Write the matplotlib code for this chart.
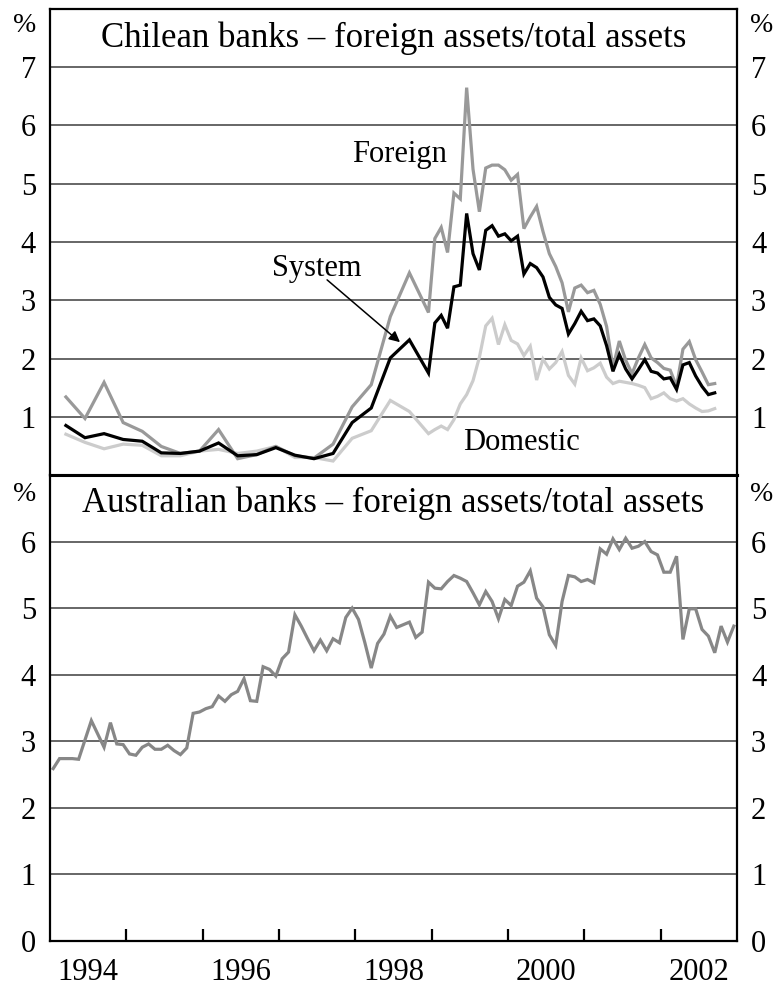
import matplotlib
matplotlib.use("Agg")
import matplotlib.pyplot as plt
import numpy as np
import pandas as pd

plt.rcParams['font.family'] = ['Liberation Serif', 'DejaVu Serif']

# ---------------- data ----------------
chile_quarter_months = [str(p) for p in pd.period_range('1994-03', '1998-12', freq='3M')]
chile_monthly_months = [str(p) for p in pd.period_range('1999-01', '2002-09', freq='M')]
chile_months = chile_quarter_months + chile_monthly_months

chile_foreign = [1.34, 0.97, 1.59, 0.90, 0.75, 0.49, 0.37, 0.41, 0.78, 0.28,
                 0.35, 0.49, 0.33, 0.29, 0.53, 1.17, 1.55, 2.72, 3.47, 2.79,
                 4.06, 4.25, 3.82, 4.84, 4.74, 6.65, 5.25, 4.52, 5.27, 5.32, 5.32, 5.24,
                 5.06, 5.16, 4.23, 4.43, 4.61, 4.18, 3.80, 3.58, 3.30, 2.80, 3.21, 3.26,
                 3.13, 3.17, 2.93, 2.55, 1.84, 2.30, 1.97, 1.74, 2.01, 2.24, 2.01, 1.93,
                 1.83, 1.80, 1.52, 2.16, 2.29, 1.98, 1.77, 1.55, 1.57]

chile_system = [0.85, 0.64, 0.71, 0.61, 0.58, 0.38, 0.37, 0.41, 0.55, 0.33,
                0.35, 0.47, 0.34, 0.28, 0.37, 0.90, 1.15, 2.01, 2.32, 1.75,
                2.61, 2.74, 2.52, 3.23, 3.26, 4.49, 3.80, 3.52, 4.20, 4.28, 4.10, 4.14,
                4.02, 4.10, 3.45, 3.63, 3.56, 3.40, 3.05, 2.92, 2.86, 2.42, 2.60, 2.81,
                2.65, 2.68, 2.56, 2.22, 1.78, 2.07, 1.82, 1.65, 1.81, 1.98, 1.78, 1.75,
                1.65, 1.67, 1.47, 1.89, 1.93, 1.70, 1.52, 1.38, 1.41]

chile_domestic = [0.70, 0.56, 0.45, 0.53, 0.51, 0.33, 0.33, 0.41, 0.44, 0.37,
                  0.41, 0.49, 0.30, 0.30, 0.24, 0.63, 0.76, 1.28, 1.09, 0.71,
                  0.78, 0.84, 0.78, 0.95, 1.22, 1.38, 1.62, 2.02, 2.56, 2.69, 2.24, 2.58,
                  2.31, 2.25, 2.05, 2.21, 1.63, 1.99, 1.82, 1.93, 2.12, 1.71, 1.56, 2.01,
                  1.79, 1.84, 1.92, 1.68, 1.57, 1.61, 1.59, 1.57, 1.54, 1.50, 1.31, 1.35,
                  1.41, 1.31, 1.27, 1.31, 1.22, 1.15, 1.09, 1.10, 1.14]

aus_months = [str(p) for p in pd.period_range('1994-01', '2002-12', freq='M')]
aus_foreign = [2.59, 2.74, 2.74, 2.74, 2.73, 3.02, 3.31, 3.11, 2.91, 3.28,
               2.96, 2.95, 2.81, 2.79, 2.91, 2.96, 2.88, 2.88, 2.94, 2.86,
               2.80, 2.90, 3.42, 3.44, 3.49, 3.52, 3.68, 3.60, 3.70, 3.75,
               3.94, 3.61, 3.60, 4.12, 4.08, 3.98, 4.24, 4.34, 4.90, 4.73,
               4.54, 4.36, 4.52, 4.36, 4.54, 4.48, 4.86, 5.00, 4.83, 4.48,
               4.10, 4.47, 4.61, 4.88, 4.71, 4.75, 4.79, 4.56, 4.64, 5.39,
               5.30, 5.29, 5.40, 5.49, 5.45, 5.40, 5.23, 5.05, 5.25, 5.10,
               4.84, 5.13, 5.04, 5.33, 5.39, 5.56, 5.15, 5.02, 4.60, 4.44,
               5.10, 5.49, 5.47, 5.40, 5.43, 5.38, 5.89, 5.81, 6.04, 5.88,
               6.05, 5.90, 5.93, 6.00, 5.85, 5.80, 5.54, 5.54, 5.78, 4.53,
               4.99, 4.99, 4.68, 4.58, 4.33, 4.73, 4.49, 4.73]

top_ticks = [1, 2, 3, 4, 5, 6, 7]
bottom_ticks = [0, 1, 2, 3, 4, 5, 6]
year_labels = ['1994', '1996', '1998', '2000', '2002']


def to_decimal(months):
    p = pd.PeriodIndex(months, freq='M')
    return np.asarray(p.year + (p.month - 0.5) / 12.0, dtype=float)


x_chile = to_decimal(chile_months)
x_aus = to_decimal(aus_months)

# ---------------- figure ----------------
W, H = 779, 988
fig = plt.figure(figsize=(W / 100, H / 100), dpi=100)

left = 50 / W
width = (737 - 50) / W
ax1 = fig.add_axes([left, 1 - 475 / H, width, 466 / H])
ax2 = fig.add_axes([left, 1 - 941 / H, width, 466 / H])

grid_col = '#5a5a5a'
tick_fs = 22

for ax in (ax1, ax2):
    ax.set_xlim(1994, 2003)
    for s in ax.spines.values():
        s.set_linewidth(1.6)
        s.set_color('black')
    ax.yaxis.grid(True, color=grid_col, linewidth=1.3)
    ax.set_axisbelow(True)
    ax.tick_params(axis='y', which='both', length=0, pad=10, labelsize=tick_fs,
                   labelleft=True, labelright=True)

ax1.spines['bottom'].set_linewidth(2.2)
ax2.spines['top'].set_linewidth(2.2)

# top panel
ax1.set_ylim(0, 8)
ax1.set_yticks(top_ticks)
ax1.set_yticklabels([str(t) for t in top_ticks])
ax1.set_xticks([])

ax1.plot(x_chile, chile_domestic, color='#cccccc', lw=2.3, solid_joinstyle='miter')
ax1.plot(x_chile, chile_foreign, color='#999999', lw=2.3, solid_joinstyle='miter')
ax1.plot(x_chile, chile_system, color='black', lw=2.3, solid_joinstyle='miter')

ax1.text(0.5, 0.918, 'Chilean banks – foreign assets/total assets', transform=ax1.transAxes,
         ha='center', va='baseline', fontsize=25)
ax1.text(1998.585, 5.50, 'Foreign', ha='center', va='center', fontsize=22)
ax1.text(1997.50, 3.55, 'System', ha='center', va='center', fontsize=22)
ax1.text(2000.18, 0.55, 'Domestic', ha='center', va='center', fontsize=22)
ax1.annotate('', xy=(1998.585, 2.28), xytext=(1997.63, 3.35),
             arrowprops=dict(arrowstyle='-|>', color='black', lw=1.1,
                             mutation_scale=16, shrinkA=0, shrinkB=0))

# bottom panel
ax2.set_ylim(0, 7)
ax2.set_yticks(bottom_ticks)
ax2.set_yticklabels([str(t) for t in bottom_ticks])
ax2.plot(x_aus, aus_foreign, color='#878787', lw=2.3, solid_joinstyle='miter')
ax2.text(0.5, 0.9206, 'Australian banks – foreign assets/total assets', transform=ax2.transAxes,
         ha='center', va='baseline', fontsize=25)

ax2.set_xticks(list(range(1995, 2003)))
ax2.set_xticklabels([])
ax2.set_xticks([int(y) + 0.5 for y in year_labels], minor=True)
ax2.set_xticklabels(year_labels, minor=True)
ax2.tick_params(axis='x', which='major', direction='in', length=9, width=1.6,
                top=False, bottom=True)
ax2.tick_params(axis='x', which='minor', length=0, pad=12, labelsize=tick_fs)

# % unit labels
for ypix in (26, 494):
    fig.text(25 / W, 1 - ypix / H, '%', ha='center', va='center', fontsize=20)
    fig.text(762 / W, 1 - ypix / H, '%', ha='center', va='center', fontsize=20)

fig.savefig('out.png', dpi=100)
